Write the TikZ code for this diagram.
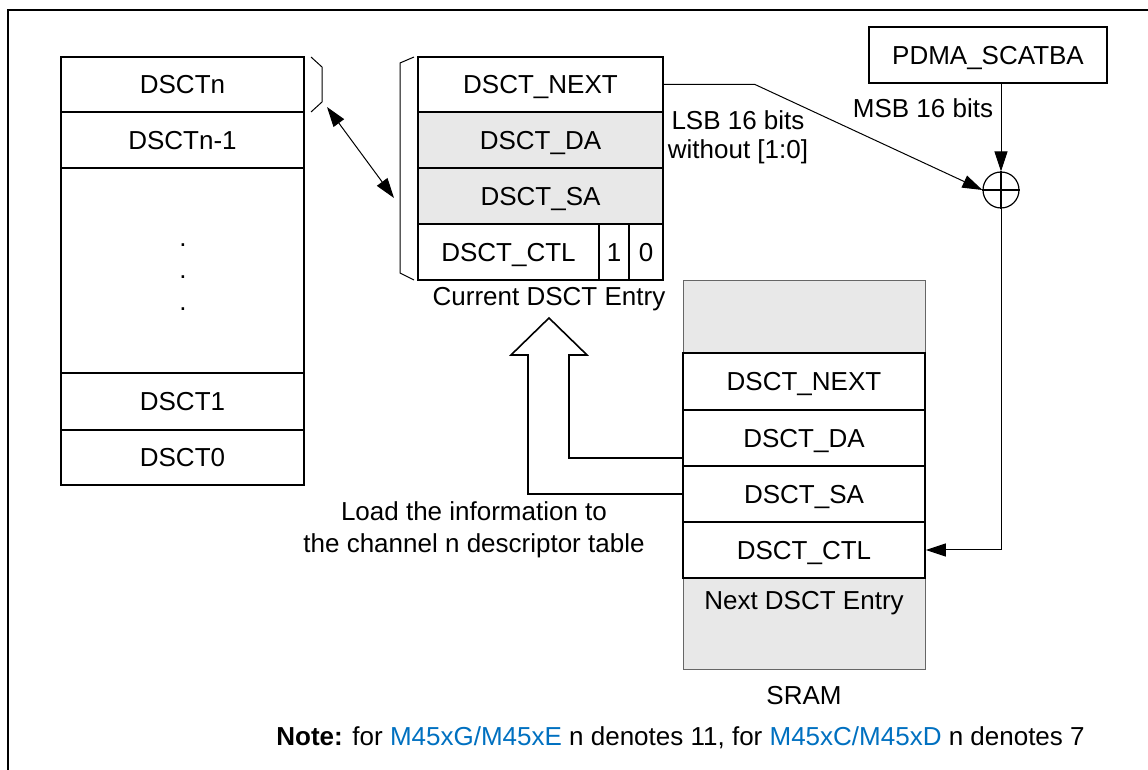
\documentclass[tikz,border=0pt]{standalone}
\usepackage{fontspec}
\setmainfont{Liberation Sans}
\usetikzlibrary{arrows.meta}
\definecolor{cellgray}{RGB}{232,232,232}
\definecolor{noteblue}{RGB}{0,112,192}
\tikzset{dsctmap/.style={x=0.5pt,y=-0.5pt,font=\fontsize{13}{16}\selectfont},
  cell/.style={draw,line width=0.8pt,inner sep=0pt,minimum height=28pt,text height=9.3pt,text depth=0pt},
  arr/.style={-{Triangle[length=10pt,width=6.5pt]},line width=0.5pt},
  dblarr/.style={{Triangle[length=10pt,width=6.5pt]}-{Triangle[length=10pt,width=6.5pt]},line width=0.5pt}}
\begin{document}
\begin{tikzpicture}[dsctmap]
    \useasboundingbox (0,0) rectangle (1148,770);
    \draw[line width=1pt] (8,770) -- (8,10) -- (1148,10);
    % descriptor table of channel n
    \node[cell,minimum width=121.5pt,minimum height=27.5pt] (dscn) at (182.5,84.5) {DSCTn};
    \node[cell,minimum width=121.5pt] (dscn1) at (182.5,140) {DSCTn-1};
    \node[cell,minimum width=121.5pt,minimum height=102.5pt] (dscdots) at (182.5,270.5) {};
    \foreach \y in {247,279,311} \node[anchor=base] at (183,\y) {.};
    \node[cell,minimum width=121.5pt,minimum height=28.5pt] (dsc1) at (182.5,401.5) {DSCT1};
    \node[cell,minimum width=121.5pt,minimum height=27.5pt] (dsc0) at (182.5,457.5) {DSCT0};
    \draw[line width=0.5pt] (311,57) -- (322,67) -- (322,102) -- (311,112);
    % current entry
    \node[cell,minimum width=122.5pt,minimum height=27.5pt] (cnext) at (540.5,84.5) {DSCT\_NEXT};
    \node[cell,fill=cellgray,minimum width=122.5pt] (cda) at (540.5,140) {DSCT\_DA};
    \node[cell,fill=cellgray,minimum width=122.5pt] (csa) at (540.5,196) {DSCT\_SA};
    \node[cell,minimum width=90.5pt] (cctl) at (508.5,252) {DSCT\_CTL};
    \node[cell,minimum width=15pt] (cbit1) at (614,252) {1};
    \node[cell,minimum width=17pt] (cbit0) at (646,252) {0};
    \draw[line width=0.5pt] (414,57) -- (400,63) -- (400,273) -- (414,280);
    \node (curlbl) at (549,299) {Current DSCT Entry};
    \coordinate (brtip) at (327,107);
    \coordinate (brmid) at (394,198);
    \draw[dblarr] (brtip) -- (brmid);
    % SRAM
    \draw[fill=cellgray,draw=black!60,line width=0.5pt] (683,281) rectangle (925,670);
    \node[cell,fill=white,minimum width=121pt,minimum height=28.5pt] (snext) at (804,381.5) {DSCT\_NEXT};
    \node[cell,fill=white,minimum width=121pt] (sda) at (804,438) {DSCT\_DA};
    \node[cell,fill=white,minimum width=121pt] (ssa) at (804,494) {DSCT\_SA};
    \node[cell,fill=white,minimum width=121pt] (sctl) at (804,550) {DSCT\_CTL};
    \node (nextlbl) at (804,603) {Next DSCT Entry};
    \node (sramlbl) at (804,696) {SRAM};
    % address generation
    \node[cell,minimum width=119pt] (scat) at (988,55) {PDMA\_SCATBA};
    \node[circle,draw,line width=0.6pt,minimum size=18pt,inner sep=0pt] (adder) at (1001,190) {};
    \draw[line width=0.6pt] (adder.north) -- (adder.south) (adder.west) -- (adder.east);
    \node (msb) at (923,108) {MSB 16 bits};
    \node[align=center,font=\fontsize{13}{14.5}\selectfont] (lsb) at (738,137) {LSB 16 bits\\without [1:0]};
    \coordinate (bend) at (755,84.5);
    \draw[arr] (cnext.east) -- (bend) -- (adder.west);
    \draw[arr] (scat.south -| adder.north) -- (adder.north);
    \draw[arr] (adder.south) |- (sctl.east);
    % load arrow
    \draw[line width=0.8pt] (683,458) -- (569,458) -- (569,355) -- (587,355) -- (549,318)
      -- (511,355) -- (528,355) -- (528,494) -- (683,494);
    \node[align=center] (loadlbl) at (474,530) {Load the information to\\the channel n descriptor table};
    \node[anchor=base west,inner sep=0pt] (note) at (276,746) {\textbf{Note:} for \textcolor{noteblue}{M45xG/M45xE} n denotes 11, for \textcolor{noteblue}{M45xC/M45xD} n denotes 7};
\end{tikzpicture}
\end{document}
